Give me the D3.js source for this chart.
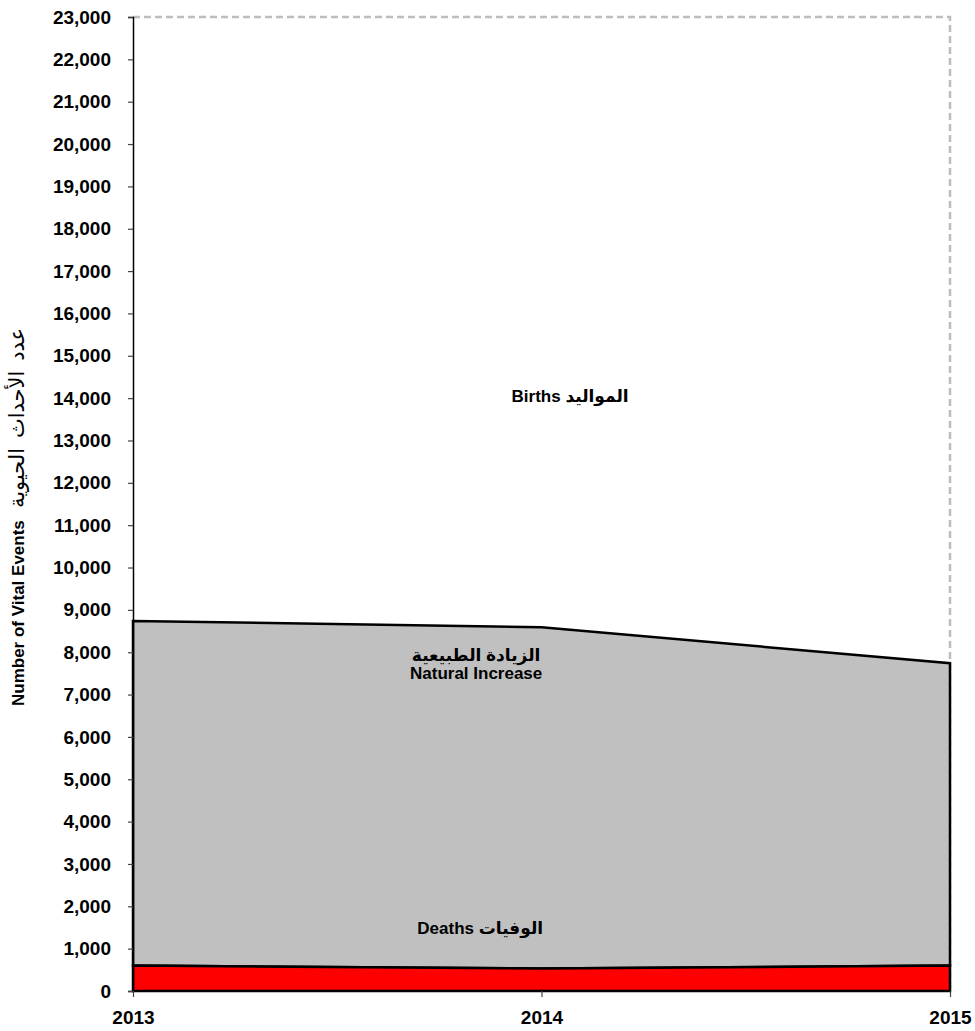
<!DOCTYPE html>
<html>
<head>
<meta charset="utf-8">
<script src="https://cdn.jsdelivr.net/npm/d3@7"></script>
<style>
  body { margin: 0; background: #fff; }
  text { font-family: "Liberation Sans", Arial, "DejaVu Sans", sans-serif; font-weight: bold; }
</style>
</head>
<body>
<svg id="chart"></svg>
<script>
// values
const years = [2013, 2014, 2015];
const births = [8740, 8590, 7740];
const deaths = [600, 530, 600];
const yTickValues = [0, 1000, 2000, 3000, 4000, 5000, 6000, 7000, 8000, 9000, 10000, 11000,
    12000, 13000, 14000, 15000, 16000, 17000, 18000, 19000, 20000, 21000, 22000, 23000];

const titleEn = "Number of Vital Events";
const titleAr = "عدد الأحداث الحيوية";

// annotations (data coords)
const labels = [
    { year: 2014.07, value: 13920, lines: ["Births المواليد"] },
    { year: 2013.84, value: 7790, lines: ["الزيادة الطبيعية", "Natural Increase"] },
    { year: 2013.85, value: 1340, lines: ["Deaths الوفيات"] }
];

const width = 975, height = 1031;
const margin = { top: 17, right: 25, bottom: 40, left: 133 };

const svg = d3.select("#chart")
    .attr("width", width)
    .attr("height", height);

const x = d3.scaleLinear()
    .domain([2013, 2015])
    .range([margin.left, width - margin.right]);

const y = d3.scaleLinear()
    .domain([0, 23000])
    .range([height - margin.bottom, margin.top]);

const rows = years.map((yr, i) => ({ year: yr, births: births[i], deaths: deaths[i] }));

// plot area border (dashed, top + right)
svg.append("path")
    .attr("d", `M${x(2013)},${y(23000)} L${x(2015)},${y(23000)} L${x(2015)},${y(0)}`)
    .attr("fill", "none")
    .attr("stroke", "#bdbdbd")
    .attr("stroke-width", 2.5)
    .attr("stroke-dasharray", "7,4");

// natural increase: between deaths and births
const grey = d3.area()
    .x(d => x(d.year))
    .y0(d => y(d.deaths))
    .y1(d => y(d.births));

svg.append("path")
    .datum(rows)
    .attr("d", grey)
    .attr("fill", "#c0c0c0")
    .attr("stroke", "#000")
    .attr("stroke-width", 2.5);

const red = d3.area()
    .x(d => x(d.year))
    .y0(y(0))
    .y1(d => y(d.deaths));

svg.append("path")
    .datum(rows)
    .attr("d", red)
    .attr("fill", "#ff0000")
    .attr("stroke", "#000")
    .attr("stroke-width", 2.5);

// axes
const yAxis = svg.append("g")
    .attr("transform", `translate(${margin.left},0)`)
    .call(d3.axisLeft(y).tickValues(yTickValues).tickFormat(d3.format(",")).tickSize(5).tickPadding(17));

const xAxis = svg.append("g")
    .attr("transform", `translate(0,${y(0)})`)
    .call(d3.axisBottom(x).tickValues(years).tickFormat(d3.format("d")).tickSize(6).tickPadding(14));

[yAxis, xAxis].forEach(g => {
    g.select(".domain").attr("stroke", "#000").attr("stroke-width", 1.5);
    g.selectAll(".tick line").attr("stroke", "#444").attr("stroke-width", 1.2);
    g.selectAll(".tick text")
        .attr("fill", "#000")
        .style("font-size", "19px")
        .style("font-weight", "bold")
        .style("font-family", "'Liberation Sans', Arial, sans-serif");
});
xAxis.select(".domain").remove();

// y axis title: English part from the bottom, Arabic part above it
const title = svg.append("g")
    .attr("transform", "translate(24,0) rotate(-90)");

title.append("text")
    .attr("x", -706)
    .attr("direction", "ltr")
    .attr("text-anchor", "start")
    .style("font-size", "17px")
    .text(titleEn);

title.append("text")
    .attr("x", -508)
    .attr("direction", "ltr")
    .attr("text-anchor", "start")
    .style("font-size", "21px")
    .style("font-weight", "normal")
    .style("word-spacing", "4px")
    .text(titleAr);

// in-chart labels
labels.forEach(l => {
    const t = svg.append("text")
        .attr("x", x(l.year))
        .attr("y", y(l.value))
        .attr("text-anchor", "middle")
        .style("font-size", "17px");
    l.lines.forEach((s, i) => {
        t.append("tspan")
            .attr("x", x(l.year))
            .attr("dy", i === 0 ? 0 : 18)
            .text(s);
    });
});
</script>
</body>
</html>
